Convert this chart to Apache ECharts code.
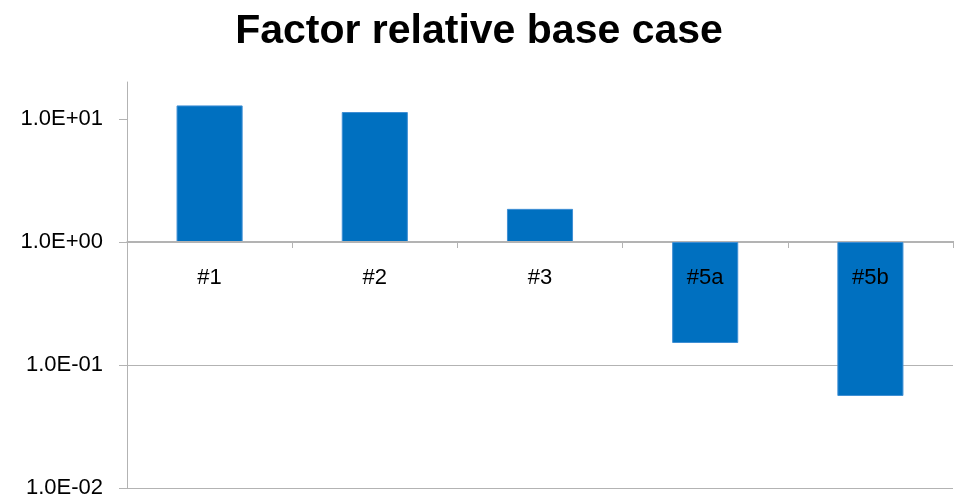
<!DOCTYPE html>
<html>
<head>
<meta charset="utf-8">
<script src="https://cdn.jsdelivr.net/npm/echarts@6/dist/echarts.min.js"></script>
<style>
  html, body { margin: 0; padding: 0; background: #fff; }
  #chart { width: 958px; height: 502px; }
</style>
</head>
<body>
<div id="chart"></div>
<script>
// Factor of each case relative to the base case (log scale, bars grow from 1)
const categories = ['#1', '#2', '#3', '#5a', '#5b'];
const factors = [12.9, 11.4, 1.86, 0.151, 0.056];

// Decade ticks on the value axis and their printed form
const yTickValues = [0.01, 0.1, 1, 10];
const yTickLabels = ['1.0E-02', '1.0E-01', '1.0E+00', '1.0E+01'];

const FONT = '"Liberation Sans", Arial, Helvetica, sans-serif';
const GRID_COLOR = '#b3b3b3';

const chart = echarts.init(document.getElementById('chart'), null, { renderer: 'canvas' });

function labelFor(v) {
  for (let i = 0; i < yTickValues.length; i++) {
    if (Math.abs(Math.log10(v) - Math.log10(yTickValues[i])) < 1e-6) return yTickLabels[i];
  }
  return '';
}

chart.setOption({
  animation: false,
  backgroundColor: '#ffffff',
  title: {
    text: 'Factor relative base case',
    left: 'center',
    top: 6,
    textStyle: { fontFamily: FONT, fontSize: 41, fontWeight: 'bold', color: '#000' }
  },
  grid: { left: 127, right: 5, top: 82, bottom: 14, containLabel: false },
  xAxis: {
    type: 'category',
    data: categories,
    position: 'bottom',
    offset: -247,
    z: 5,
    axisLine: { show: true, lineStyle: { color: GRID_COLOR, width: 1 } },
    axisTick: { show: true, length: 7, lineStyle: { color: GRID_COLOR } },
    axisLabel: { fontFamily: FONT, fontSize: 22, color: '#000', margin: 26 },
    splitLine: { show: false }
  },
  yAxis: {
    type: 'log',
    logBase: 10,
    min: 0.01,
    max: 20,
    axisLine: { show: true, lineStyle: { color: GRID_COLOR, width: 1 } },
    axisTick: { show: true, length: 8, customValues: yTickValues, lineStyle: { color: GRID_COLOR } },
    axisLabel: {
      fontFamily: FONT, fontSize: 22, color: '#000', margin: 24,
      customValues: yTickValues,
      formatter: labelFor
    },
    splitLine: { show: true, showMaxLine: false, lineStyle: { color: GRID_COLOR, width: 1 } }
  },
  series: [{
    type: 'bar',
    data: factors,
    barWidth: '40%',
    z: 2,
    itemStyle: { color: '#0070c0', borderColor: '#3f8fd4', borderWidth: 1 }
  }]
});
</script>
</body>
</html>
